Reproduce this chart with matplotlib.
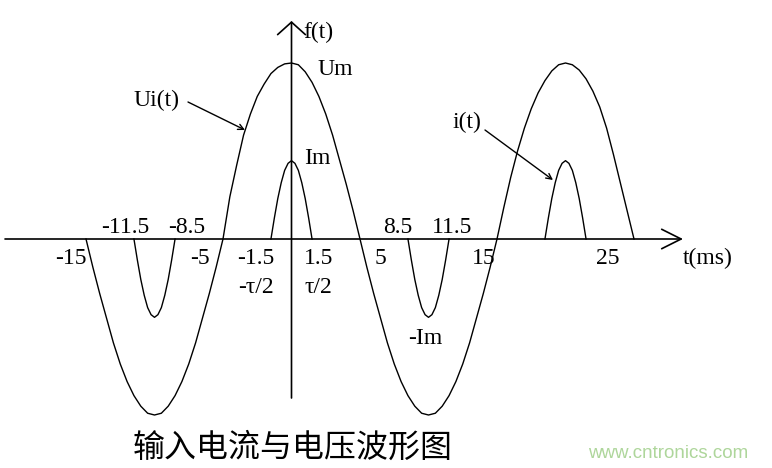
import matplotlib
matplotlib.use('Agg')
import matplotlib.pyplot as plt

# input voltage Ui(t), read every 0.5 ms from -15 ms to 25 ms (Um = 1)
t_u = [-15 + 0.5 * k for k in range(81)]
u_vals = [
    0.0, -0.16, -0.31, -0.45, -0.59, -0.71, -0.81, -0.89, -0.95, -0.99,
    -1.0, -0.99, -0.95, -0.89, -0.81, -0.71, -0.59, -0.45, -0.31, -0.16,
    0.0, 0.24, 0.42, 0.59, 0.71, 0.81, 0.88, 0.94, 0.975, 0.995,
    1.0, 0.99, 0.95, 0.89, 0.81, 0.71, 0.59, 0.45, 0.31, 0.16,
    0.0, -0.16, -0.31, -0.45, -0.59, -0.71, -0.81, -0.89, -0.95, -0.99,
    -1.0, -0.99, -0.95, -0.89, -0.81, -0.71, -0.59, -0.45, -0.31, -0.16,
    0.0, 0.18, 0.35, 0.5, 0.63, 0.74, 0.83, 0.9, 0.955, 0.99,
    1.0, 0.99, 0.96, 0.91, 0.84, 0.75, 0.63, 0.48, 0.32, 0.16,
    0.0,
]

# current pulse i(t), read every 0.25 ms across one conduction interval (tau = 3 ms)
pulse_offsets = [-1.5, -1.25, -1.0, -0.75, -0.5, -0.25, 0.0, 0.25, 0.5, 0.75, 1.0, 1.25, 1.5]
pulse_vals = [0.0, 0.12, 0.23, 0.32, 0.39, 0.43, 0.445, 0.43, 0.39, 0.32, 0.23, 0.12, 0.0]
pulse_centers = [-10, 0, 10, 20]
pulse_signs = [-1, 1, -1, 1]

# axis labels: (text, t, y)
labels = [
    ('-15', -16.1, -0.108), ('-11.5', -12.15, 0.063), ('-8.5', -7.63, 0.063),
    ('-5', -6.68, -0.108), ('-1.5', -2.6, -0.108), ('1.5', 2.0, -0.108),
    ('5', 6.46, -0.108), ('8.5', 7.77, 0.063), ('11.5', 11.71, 0.063),
    ('15', 14.02, -0.108), ('25', 23.07, -0.108),
    ('-τ/2', -2.6, -0.273), ('τ/2', 1.93, -0.273),
    ('Um', 3.17, 0.965), ('Im', 1.86, 0.455), ('-Im', 9.74, -0.563),
]

# pixel -> data (axes fill the whole figure)
px_t0, px_per_ms = 291.5, 13.7
py_y0, py_per_u = 239.0, 176.0


def T(px):
    return (px - px_t0) / px_per_ms


def Y(py):
    return (py_y0 - py) / py_per_u


fig = plt.figure(figsize=(7.72, 4.68), dpi=100)
ax = fig.add_axes([0, 0, 1, 1])
ax.set_xlim(T(0), T(772))
ax.set_ylim(Y(468), Y(0))
ax.axis('off')

# axes with open arrow heads
ax.annotate('', xy=(T(683), 0), xytext=(T(5), 0),
            arrowprops=dict(arrowstyle='->,head_length=0.7,head_width=0.35',
                            color='black', lw=1.2, mutation_scale=20,
                            shrinkA=0, shrinkB=0))
ax.annotate('', xy=(0, Y(21)), xytext=(0, Y(398)),
            arrowprops=dict(arrowstyle='->,head_length=0.45,head_width=0.5',
                            color='black', lw=1.2, mutation_scale=20,
                            shrinkA=0, shrinkB=0))

ax.plot(t_u, u_vals, color='black', lw=1.0)
for c, s in zip(pulse_centers, pulse_signs):
    ax.plot([c + o for o in pulse_offsets], [s * v for v in pulse_vals],
            color='black', lw=1.0)

serif = 'Liberation Serif'
for txt, x, y in labels:
    ax.text(x, y, txt, fontsize=17, family=serif, ha='center', va='center')
ax.text(T(683), Y(258), 't(ms)', fontsize=17, family=serif, ha='left', va='center')
ax.text(T(303), Y(32), 'f(t)', fontsize=17, family=serif, ha='left', va='center')

# pointers
ax.text(T(156), Y(100), 'Ui(t)', fontsize=17, family=serif, ha='center', va='center')
ax.annotate('', xy=(T(245), Y(130)), xytext=(T(188), Y(102)),
            arrowprops=dict(arrowstyle='->,head_length=0.4,head_width=0.2',
                            color='black', lw=1.0, shrinkA=0, shrinkB=0))
ax.text(T(467), Y(122), 'i(t)', fontsize=17, family=serif, ha='center', va='center')
ax.annotate('', xy=(T(553), Y(180)), xytext=(T(485), Y(130)),
            arrowprops=dict(arrowstyle='->,head_length=0.4,head_width=0.2',
                            color='black', lw=1.0, shrinkA=0, shrinkB=0))

ax.text(T(133), Y(448), '输入电流与电压波形图', fontsize=23,
        family=['Noto Sans CJK SC', 'DejaVu Sans'], ha='left', va='center')
ax.text(T(588), Y(453), 'www.cntronics.com', fontsize=13.5,
        family='Liberation Sans', color='#aed69b', ha='left', va='center')

fig.savefig('out.png', dpi=100)
